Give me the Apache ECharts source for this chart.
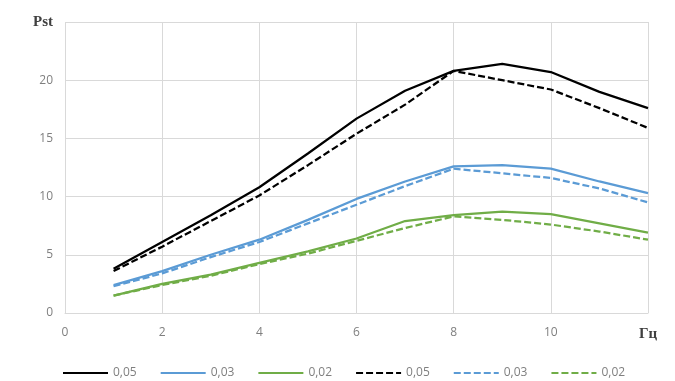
<!DOCTYPE html>
<html><head><meta charset="utf-8">
<script src="https://cdn.jsdelivr.net/npm/echarts@6/dist/echarts.min.js"></script>
<style>html,body{margin:0;padding:0;background:#fff}#c{width:675px;height:381px}</style>
</head><body><div id="c"></div>
<script>
var freq = [1,2,3,4,5,6,7,8,9,10,11,12];
var solid05 = [3.8,6.1,8.4,10.8,13.7,16.7,19.1,20.8,21.4,20.7,19.0,17.6];
var solid03 = [2.4,3.6,5.0,6.3,8.0,9.8,11.3,12.6,12.7,12.4,11.3,10.3];
var solid02 = [1.5,2.5,3.3,4.3,5.3,6.4,7.9,8.4,8.7,8.5,7.7,6.9];
var dash05 = [3.6,5.7,7.9,10.1,12.7,15.4,17.9,20.8,20.0,19.2,17.6,15.9];
var dash03 = [2.3,3.4,4.8,6.1,7.7,9.3,10.9,12.4,12.0,11.6,10.7,9.5];
var dash02 = [1.5,2.4,3.2,4.2,5.1,6.2,7.3,8.3,8.0,7.6,7.0,6.3];
var legendLabels = ['0,05','0,03','0,02','0,05','0,03','0,02'];
var yTicks = [0,5,10,15,20];
var xTicks = [0,2,4,6,8,10];
var yUnit = 'Pst';
var xUnit = 'Гц';

function pairs(arr){ return freq.map(function(f,i){ return [f, arr[i]]; }); }
var colors = ['#000000','#5b9bd5','#70ad47','#000000','#5b9bd5','#70ad47'];
var sets = [solid05, solid03, solid02, dash05, dash03, dash02];
var ids = ['s05','s03','s02','d05','d03','d02'];
var series = sets.map(function(s,i){
  return {
    name: ids[i], type:'line', data: pairs(s), symbol:'none', showSymbol:false,
    lineStyle:{color:colors[i], width:2.25, type: i<3 ? 'solid' : [7,3]},
    itemStyle:{color:colors[i]}, z: 10 - i
  };
});
var chart = echarts.init(document.getElementById('c'), null, {renderer:'canvas'});
chart.setOption({
  animation:false,
  grid:{left:65, right:27, top:22, bottom:68, containLabel:false},
  legend:{
    data: ids, left:57, top:362, itemWidth:45, itemHeight:10, itemGap:23,
    formatter:function(n){ return legendLabels[ids.indexOf(n)]; },
    textStyle:{fontFamily:'Open Sans, sans-serif', fontSize:12, color:'#7f7f7f'},
    itemStyle:{opacity:0},
    selectedMode:false
  },
  xAxis:{
    type:'value', min:0, max:12, interval:2,
    axisLine:{show:true, lineStyle:{color:'#d9d9d9', width:1}},
    axisTick:{show:false},
    splitLine:{show:true, lineStyle:{color:'#d9d9d9', width:1}},
    axisLabel:{
      margin:14,
      formatter:function(v){ return v===12 ? '{u|'+xUnit+'}' : (xTicks.indexOf(v)>=0 ? String(v) : ''); },
      fontFamily:'Open Sans, sans-serif', fontSize:12, color:'#7f7f7f',
      rich:{u:{fontFamily:'Liberation Serif, serif', fontWeight:'bold', fontSize:15, color:'#404040'}}
    }
  },
  yAxis:{
    type:'value', min:0, max:25, interval:5,
    axisLine:{show:false}, axisTick:{show:false},
    splitLine:{show:true, lineStyle:{color:'#d9d9d9', width:1}},
    axisLabel:{
      margin:12,
      formatter:function(v){ return v===25 ? '{u|'+yUnit+'}' : (yTicks.indexOf(v)>=0 ? String(v) : ''); },
      fontFamily:'Open Sans, sans-serif', fontSize:12, color:'#7f7f7f',
      rich:{u:{fontFamily:'Liberation Serif, serif', fontWeight:'bold', fontSize:15, color:'#404040'}}
    }
  },
  series: series
});
</script></body></html>
